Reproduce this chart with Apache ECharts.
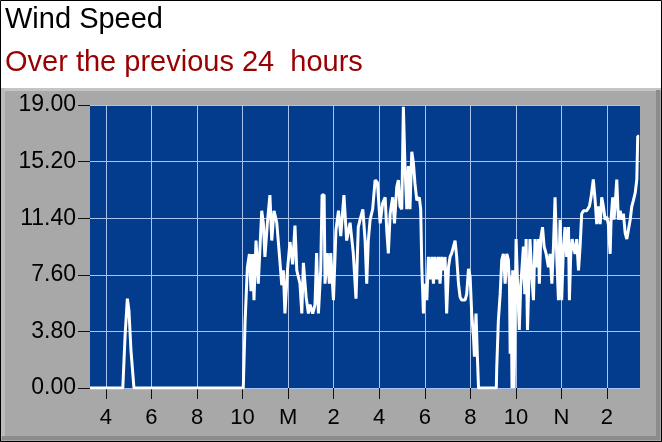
<!DOCTYPE html>
<html>
<head>
<meta charset="utf-8">
<script src="https://cdn.jsdelivr.net/npm/echarts@6/dist/echarts.min.js"></script>
<style>
  html, body { margin: 0; padding: 0; background: #fff; }
  #chart { width: 662px; height: 442px; }
</style>
</head>
<body>
<div id="chart"></div>
<script>
// hours since midnight of the first day (24 = noon next day)
const hours = [
    3.30, 4.74, 4.84, 4.94, 5.01, 5.10, 5.23, 10.03, 10.11, 10.21,
    10.30, 10.37, 10.44, 10.50, 10.59, 10.69, 10.84, 10.91, 10.98, 11.09,
    11.20, 11.28, 11.38, 11.50, 11.61, 11.72, 11.79, 11.86, 11.97, 12.08,
    12.20, 12.30, 12.38, 12.52, 12.60, 12.67, 12.79, 12.89, 12.96, 13.08,
    13.18, 13.25, 13.33, 13.43, 13.49, 13.58, 13.62, 13.72, 13.81, 13.87,
    13.99, 14.10, 14.21, 14.31, 14.45, 14.57, 14.72, 14.86, 14.98, 15.08,
    15.16, 15.28, 15.38, 15.45, 15.52, 15.60, 15.71, 15.82, 15.92, 16.04,
    16.15, 16.26, 16.33, 16.40, 16.48, 16.59, 16.67, 16.77, 16.84, 16.91,
    16.99, 17.06, 17.13, 17.21, 17.28, 17.35, 17.43, 17.50, 17.57, 17.65,
    17.76, 17.82, 17.87, 17.94, 18.01, 18.09, 18.16, 18.23, 18.31, 18.38,
    18.45, 18.53, 18.60, 18.67, 18.74, 18.82, 18.89, 18.96, 19.04, 19.11,
    19.18, 19.26, 19.33, 19.40, 19.48, 19.55, 19.62, 19.70, 19.77, 19.84,
    19.92, 19.99, 20.06, 20.14, 20.18, 20.25, 20.31, 20.36, 21.14, 21.16,
    21.23, 21.31, 21.38, 21.45, 21.53, 21.60, 21.67, 21.72, 21.75, 21.79,
    21.83, 21.86, 21.92, 21.96, 22.01, 22.07, 22.15, 22.21, 22.27, 22.33,
    22.39, 22.45, 22.51, 22.57, 22.62, 22.70, 22.77, 22.84, 22.92, 22.99,
    23.03, 23.09, 23.17, 23.24, 23.33, 23.43, 23.50, 23.58, 23.65, 23.72,
    23.80, 23.87, 23.94, 24.01, 24.09, 24.16, 24.23, 24.31, 24.35, 24.41,
    24.47, 24.53, 24.60, 24.67, 24.75, 24.82, 24.89, 24.97, 25.11, 25.23,
    25.30, 25.40, 25.48, 25.55, 25.62, 25.70, 25.77, 25.84, 25.92, 25.99,
    26.06, 26.14, 26.18, 26.25, 26.31, 26.37, 26.43, 26.50, 26.58, 26.65,
    26.72, 26.80, 26.87, 26.94, 27.02, 27.09, 27.16, 27.24, 27.31, 27.35,
    27.41
];
const speed = [
    0, 0, 3.5, 6.0, 5.2, 2.5, 0, 0, 4.45, 8.1,
    9.0, 6.5, 9.0, 5.9, 9.9, 7.0, 11.9, 11.1, 8.8, 11.1,
    12.95, 9.9, 11.9, 11.1, 9.06, 6.9, 7.9, 5.0, 7.9, 9.8,
    8.3, 10.9, 7.9, 7.0, 5.0, 8.4, 6.1, 5.0, 5.6, 5.0,
    5.6, 9.06, 5.0, 7.9, 12.95, 12.95, 7.0, 9.06, 7.0, 9.06,
    5.9, 10.6, 11.9, 10.2, 12.95, 9.9, 11.1, 9.06, 6.0, 10.8,
    11.3, 12.0, 9.9, 7.0, 9.9, 11.3, 12.0, 13.96, 13.8, 11.05,
    12.4, 12.8, 10.6, 9.04, 11.7, 12.8, 11.05, 13.5, 13.96, 12.2,
    12.0, 18.88, 14.9, 12.0, 14.9, 12.0, 15.86, 15.1, 13.7, 12.6,
    12.8, 12.0, 8.1, 5.0, 7.0, 5.9, 8.8, 7.3, 8.8, 7.0,
    8.8, 7.3, 8.8, 7.0, 8.8, 7.9, 8.8, 5.0, 8.1, 8.8,
    9.04, 9.04, 9.9, 8.8, 7.0, 6.1, 5.9, 5.9, 5.9, 6.3,
    8.0, 7.5, 5.0, 3.4, 2.1, 5.0, 2.1, 0, 0, 1.4,
    4.5, 6.3, 8.6, 9.0, 7.0, 9.0, 8.6, 6.8, 2.3, 7.5,
    0, 7.9, 0, 4.5, 10.0, 7.2, 3.9, 6.8, 8.1, 9.5,
    6.3, 10.0, 3.9, 7.2, 10.0, 7.5, 5.9, 10.0, 8.1, 10.0,
    7.0, 10.0, 10.8, 9.5, 9.0, 8.1, 9.0, 7.0, 9.5, 12.8,
    8.6, 5.9, 11.3, 5.9, 9.5, 10.8, 8.8, 10.8, 5.9, 9.0,
    10.0, 9.5, 9.0, 10.0, 7.9, 9.5, 11.7, 11.9, 11.9, 12.2,
    12.8, 14.0, 12.6, 11.0, 12.2, 11.0, 12.8, 12.2, 11.3, 11.5,
    11.0, 9.0, 11.3, 12.8, 11.3, 12.6, 14.0, 11.3, 11.9, 11.3,
    11.7, 10.4, 10.0, 10.6, 11.3, 12.2, 12.6, 13.1, 14.0, 16.9,
    16.9
];
const tickHours = [4, 6, 8, 10, 12, 14, 16, 18, 20, 22, 24, 26];
const tickLabels = ['4', '6', '8', '10', 'M', '2', '4', '6', '8', '10', 'N', '2'];

const FONT = '"Liberation Sans", Arial, sans-serif';

function makeOption() {
    let points = hours.map((h, i) => [h, speed[i]]);
    return {
        backgroundColor: '#ffffff',
        animation: false,
        title: [
            {
                text: 'Wind Speed',
                left: 5, top: 5, padding: 0,
                textStyle: { color: '#000', fontFamily: FONT, fontSize: 29, fontWeight: 'normal', lineHeight: 29 }
            },
            {
                text: 'Over the previous 24  hours',
                left: 5, top: 48, padding: 0,
                textStyle: { color: '#990000', fontFamily: FONT, fontSize: 29, fontWeight: 'normal', lineHeight: 29 }
            }
        ],
        graphic: [
            // grey instrument panel with a simple bevel
            { type: 'rect', z: -10, shape: { x: 0, y: 88, width: 662, height: 354 }, style: { fill: '#a8a8a8' } },
            { type: 'rect', z: -9, shape: { x: 1, y: 88, width: 660, height: 3 }, style: { fill: '#c4c4c4' } },
            { type: 'rect', z: -9, shape: { x: 1, y: 88, width: 4, height: 350 }, style: { fill: '#bcbcbc' } },
            { type: 'rect', z: -9, shape: { x: 656, y: 90, width: 4, height: 350 }, style: { fill: '#8c8c8c' } },
            { type: 'rect', z: -9, shape: { x: 2, y: 436, width: 658, height: 4 }, style: { fill: '#8c8c8c' } },
            { type: 'rect', z: 20, silent: true, shape: { x: 0.5, y: 0.5, width: 661, height: 441 },
              style: { fill: 'none', stroke: '#000', lineWidth: 1 } }
        ],
        grid: {
            left: 90, right: 22, top: 105, bottom: 54,
            show: true, backgroundColor: '#033c8c', borderWidth: 0
        },
        xAxis: {
            type: 'value',
            min: 3.3,
            max: 27.45,
            axisLine: { show: false },
            axisTick: {
                show: true, customValues: tickHours, length: 11,
                lineStyle: { color: '#111', width: 1 }
            },
            axisLabel: {
                customValues: tickHours,
                margin: 19,
                color: '#000', fontFamily: FONT, fontSize: 22,
                formatter: (v) => tickLabels[tickHours.indexOf(Math.round(v))] || ''
            },
            splitLine: { show: true, lineStyle: { color: '#a9c4ee', width: 1 } }
        },
        yAxis: {
            type: 'value',
            min: 0,
            max: 19,
            interval: 3.8,
            axisLine: { show: false },
            axisTick: { show: true, length: 12, lineStyle: { color: '#111', width: 1 } },
            axisLabel: {
                margin: 14,
                color: '#000', fontFamily: FONT, fontSize: 23,
                formatter: (v) => v.toFixed(2)
            },
            splitLine: { show: true, lineStyle: { color: '#a9c4ee', width: 1 } }
        },
        series: [
            {
                name: 'Wind Speed',
                type: 'line',
                data: points,
                symbol: 'none',
                smooth: false,
                clip: true,
                lineStyle: { color: '#ffffff', width: 3 }
            }
        ]
    };
}

try {
    let chart = echarts.init(document.getElementById('chart'));
    chart.setOption(makeOption());
} catch (err) {
    console.log(`Error drawing wind chart: ${err}`);
}
</script>
</body>
</html>
